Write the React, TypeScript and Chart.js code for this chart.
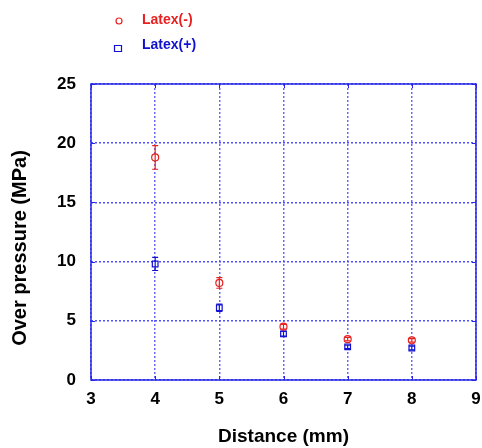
import React, { useEffect, useRef } from "react";
import { Chart, registerables } from "chart.js";
Chart.register(...registerables);

const distances = [4, 5, 6, 7, 8];
const latexMinus = [18.8, 8.2, 4.5, 3.45, 3.35];
const latexMinusErr = [1.0, 0.45, 0.2, 0.15, 0.15];
const latexPlus = [9.8, 6.1, 3.9, 2.8, 2.7];
const latexPlusErr = [0.55, 0.3, 0.2, 0.15, 0.15];
const seriesLabels = ["Latex(-)", "Latex(+)"];
const seriesColors = ["#e82020", "#1010d0"];
const xTitle = "Distance (mm)";
const yTitle = "Over pressure (MPa)";
const xMin = 3, xMax = 9, yMin = 0, yMax = 25;

const FONT = "'Liberation Sans', Arial, sans-serif";
const AXIS_BLUE = "#2626e6";
const GRID_BLUE_H = "#5050ff";
const GRID_BLUE_V = "#6a6aff";

const decor = {
  id: "decor",
  beforeDatasetsDraw(chart: any) {
    const { ctx, chartArea: a, scales } = chart;
    ctx.save();
    ctx.strokeStyle = AXIS_BLUE;
    ctx.lineWidth = 1.5;
    ctx.strokeRect(a.left, a.top, a.right - a.left, a.bottom - a.top);
    ctx.lineWidth = 1;
    ctx.beginPath();
    scales.x.ticks.forEach((t: any) => {
      const px = Math.round(scales.x.getPixelForValue(t.value)) + 0.5;
      ctx.moveTo(px, a.bottom); ctx.lineTo(px, a.bottom - 4);
      ctx.moveTo(px, a.top); ctx.lineTo(px, a.top + 4);
    });
    scales.y.ticks.forEach((t: any) => {
      const py = Math.round(scales.y.getPixelForValue(t.value)) + 0.5;
      ctx.moveTo(a.left, py); ctx.lineTo(a.left + 4, py);
      ctx.moveTo(a.right, py); ctx.lineTo(a.right - 4, py);
    });
    ctx.stroke();
    ctx.restore();
  },
  afterDatasetsDraw(chart: any) {
    const { ctx, scales } = chart;
    ctx.save();
    chart.data.datasets.forEach((ds: any) => {
      ctx.strokeStyle = ds.borderColor;
      ctx.lineWidth = 1.2;
      ds.data.forEach((p: any, i: number) => {
        const e = ds.errors[i];
        const x = scales.x.getPixelForValue(p.x);
        const y1 = scales.y.getPixelForValue(p.y + e);
        const y2 = scales.y.getPixelForValue(p.y - e);
        ctx.beginPath();
        ctx.moveTo(x, y1); ctx.lineTo(x, y2);
        ctx.moveTo(x - 3, y1); ctx.lineTo(x + 3, y1);
        ctx.moveTo(x - 3, y2); ctx.lineTo(x + 3, y2);
        ctx.stroke();
      });
    });
    ctx.restore();
  },
  afterDraw(chart: any) {
    const { ctx } = chart;
    ctx.save();
    chart.data.datasets.forEach((ds: any, i: number) => {
      const my = 21 + i * 28;
      const ty = 20 + i * 25;
      ctx.strokeStyle = ds.borderColor;
      ctx.fillStyle = "#fff";
      ctx.lineWidth = 1.2;
      ctx.beginPath();
      if (ds.pointStyle === "circle") {
        ctx.arc(119, my, 3, 0, Math.PI * 2);
      } else {
        ctx.rect(114.5, my - 3.5, 7, 6);
      }
      ctx.fill();
      ctx.stroke();
      ctx.fillStyle = ds.borderColor;
      ctx.font = `bold 14px ${FONT}`;
      ctx.textBaseline = "middle";
      ctx.fillText(ds.label, 142, ty);
    });
    // y axis title
    ctx.translate(20, 248);
    ctx.rotate(-Math.PI / 2);
    ctx.fillStyle = "#000";
    ctx.font = `bold 20px ${FONT}`;
    ctx.textAlign = "center";
    ctx.textBaseline = "middle";
    ctx.fillText(yTitle, 0, 0);
    ctx.restore();
  },
};

export default function App() {
  const ref = useRef<HTMLCanvasElement | null>(null);
  useEffect(() => {
    document.body.style.margin = "0";
    const mk = (ys: number[]) => distances.map((x, i) => ({ x, y: ys[i] }));
    const chart = new Chart(ref.current!, {
      type: "scatter",
      data: {
        datasets: [
          {
            label: seriesLabels[0],
            data: mk(latexMinus),
            errors: latexMinusErr,
            borderColor: seriesColors[0],
            backgroundColor: "#ffffff",
            pointStyle: "circle",
            pointRadius: 3.5,
            borderWidth: 1.2,
          } as any,
          {
            label: seriesLabels[1],
            data: mk(latexPlus),
            errors: latexPlusErr,
            borderColor: seriesColors[1],
            backgroundColor: "#ffffff",
            pointStyle: "rect",
            pointRadius: 4,
            borderWidth: 1.2,
          } as any,
        ],
      },
      options: {
        animation: false,
        responsive: false,
        layout: { padding: { top: 84, right: 0, left: 0, bottom: 0 } },
        plugins: { legend: { display: false }, tooltip: { enabled: false } },
        scales: {
          x: {
            type: "linear",
            min: xMin,
            max: xMax,
            afterFit: (s: any) => { s.height = 68; s.paddingRight = 6; s.paddingLeft = 0; },
            ticks: { stepSize: 1, color: "#000", padding: 9, font: { family: FONT, size: 17, weight: "bold" } },
            grid: { color: GRID_BLUE_V, lineWidth: 1.5, drawTicks: false },
            border: { display: false, dash: [2, 2] },
            title: { display: true, text: xTitle, color: "#000", padding: { top: 0, bottom: 0 }, font: { family: FONT, size: 19, weight: "bold" } },
          },
          y: {
            type: "linear",
            min: yMin,
            max: yMax,
            afterFit: (s: any) => { s.width = 91; s.paddingTop = 0; s.paddingBottom = 0; },
            ticks: { stepSize: 5, color: "#000", padding: 15, font: { family: FONT, size: 17, weight: "bold" } },
            grid: { color: GRID_BLUE_H, lineWidth: 1.5, drawTicks: false },
            border: { display: false, dash: [2, 2] },
            title: { display: false },
          },
        },
      } as any,
      plugins: [decor],
    });
    return () => chart.destroy();
  }, []);
  return (
    <div style={{ width: 482, height: 448 }}>
      <canvas ref={ref} width={482} height={448} />
    </div>
  );
}
